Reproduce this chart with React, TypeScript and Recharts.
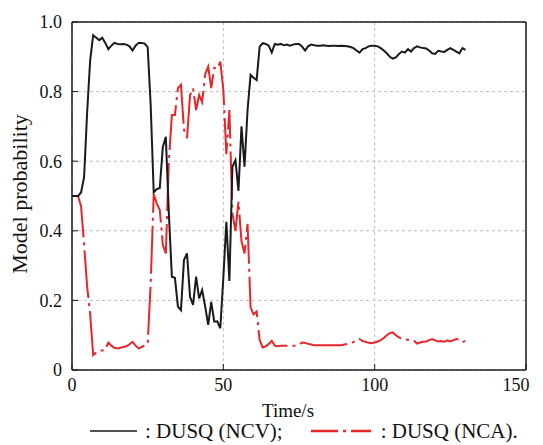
import { LineChart, Line, XAxis, YAxis, CartesianGrid, Legend, ReferenceLine } from 'recharts'

const time = [
  0, 1, 2, 3, 4, 5, 6, 7, 8, 9, 10, 11, 12, 13, 14, 15, 16, 17, 18, 19,
  20, 21, 22, 23, 24, 25, 26, 27, 28, 29, 30, 31, 32, 33, 34, 35, 36, 37, 38, 39,
  40, 41, 42, 43, 44, 45, 46, 47, 48, 49, 50, 51, 52, 53, 54, 55, 56, 57, 58, 59,
  60, 61, 62, 63, 64, 65, 66, 67, 68, 69, 70, 71, 72, 73, 74, 75, 76, 77, 78, 79,
  80, 81, 82, 83, 84, 85, 86, 87, 88, 89, 90, 91, 92, 93, 94, 95, 96, 97, 98, 99,
  100, 101, 102, 103, 104, 105, 106, 107, 108, 109, 110, 111, 112, 113, 114, 115, 116, 117, 118, 119,
  120, 121, 122, 123, 124, 125, 126, 127, 128, 129, 130,
]

// DUSQ (NCV)
const ncv = [
  0.5, 0.5, 0.5, 0.51, 0.555, 0.74, 0.89, 0.962, 0.955, 0.948, 0.955, 0.94, 0.922, 0.932, 0.94, 0.937, 0.936, 0.937, 0.935, 0.93,
  0.918, 0.932, 0.94, 0.94, 0.938, 0.928, 0.76, 0.51, 0.52, 0.523, 0.64, 0.67, 0.45, 0.268, 0.265, 0.182, 0.172, 0.316, 0.335, 0.21,
  0.187, 0.268, 0.206, 0.23, 0.182, 0.13, 0.196, 0.139, 0.14, 0.12, 0.265, 0.426, 0.256, 0.584, 0.603, 0.515, 0.7, 0.584, 0.747, 0.848,
  0.84, 0.833, 0.929, 0.939, 0.937, 0.932, 0.912, 0.937, 0.935, 0.937, 0.933, 0.935, 0.932, 0.935, 0.937, 0.937, 0.93, 0.918, 0.93, 0.935,
  0.933, 0.932, 0.932, 0.933, 0.932, 0.931, 0.932, 0.932, 0.931, 0.932, 0.931, 0.93, 0.928, 0.925, 0.918, 0.912, 0.922, 0.925, 0.93, 0.932,
  0.932, 0.93, 0.925, 0.918, 0.91, 0.9, 0.895, 0.898, 0.908, 0.915, 0.912, 0.922, 0.915, 0.925, 0.93, 0.927, 0.925, 0.924, 0.918, 0.91,
  0.908, 0.917, 0.915, 0.914, 0.92, 0.925, 0.92, 0.915, 0.91, 0.925, 0.92,
]

// DUSQ (NCA)
const nca = [
  0.5, 0.5, 0.5, 0.47, 0.36, 0.24, 0.16, 0.043, 0.05, 0.056, 0.056, 0.058, 0.079, 0.07, 0.064, 0.062, 0.064, 0.066, 0.068, 0.074,
  0.081, 0.07, 0.062, 0.066, 0.07, 0.075, 0.25, 0.505, 0.479, 0.46, 0.36, 0.335, 0.6, 0.733, 0.733, 0.81, 0.82, 0.69, 0.666, 0.79,
  0.81, 0.747, 0.79, 0.77, 0.85, 0.872, 0.81, 0.868, 0.865, 0.886, 0.805, 0.62, 0.747, 0.45, 0.4, 0.484, 0.37, 0.335, 0.42, 0.18,
  0.16, 0.168, 0.086, 0.065, 0.068, 0.075, 0.084, 0.07, 0.068, 0.07, 0.07, 0.07, 0.069, 0.07, 0.07, 0.072, 0.079, 0.078, 0.075, 0.073,
  0.071, 0.071, 0.071, 0.071, 0.071, 0.071, 0.071, 0.071, 0.071, 0.071, 0.073, 0.075, 0.078, 0.08, 0.085, 0.089, 0.083, 0.081, 0.078, 0.077,
  0.079, 0.082, 0.086, 0.092, 0.1, 0.106, 0.108, 0.1, 0.094, 0.09, 0.088, 0.087, 0.086, 0.084, 0.076, 0.079, 0.081, 0.082, 0.086, 0.089,
  0.085, 0.082, 0.083, 0.081, 0.085, 0.082, 0.086, 0.089, 0.087, 0.08, 0.084,
]

const xTicks = [0, 50, 100, 150]
const yTicks = [0, 0.2, 0.4, 0.6, 0.8, 1.0]

const FONT = '"Liberation Serif", "Times New Roman", serif'
const BLACK = '#1a1a1a'
const RED = '#e8262a'

const chartData = time.map((t, i) => ({ t, ncv: ncv[i], nca: nca[i] }))

// last x label is pulled in a little so it stays inside the frame
function XTick({ x, y, payload }: any) {
  const last = payload.value === xTicks[xTicks.length - 1]
  return (
    <text x={x + (last ? -7 : 0)} y={y} dy="0.75em" textAnchor="middle" fontFamily={FONT} fontSize={18} fill="#111">
      {payload.value}
    </text>
  )
}

function LegendContent() {
  const textStyle = { fontFamily: FONT, fontSize: 21, color: '#111' }
  return (
    <div style={{ display: 'flex', alignItems: 'center', height: 30, paddingLeft: 82, paddingTop: 2, boxSizing: 'border-box' }}>
      <svg width={47} height={10}>
        <line x1={0} y1={5} x2={47} y2={5} stroke={BLACK} strokeWidth={1.5} />
      </svg>
      <span style={{ ...textStyle, marginLeft: 8 }}>: DUSQ (NCV);</span>
      <svg width={60} height={10} style={{ marginLeft: 28 }}>
        <line x1={0} y1={5} x2={60} y2={5} stroke={RED} strokeWidth={2.5} strokeDasharray="27 5 3 5" />
      </svg>
      <span style={{ ...textStyle, marginLeft: 10 }}>: DUSQ (NCA).</span>
    </div>
  )
}

export default function App() {
  return (
    <LineChart width={527} height={437} data={chartData} margin={{ top: 14, right: 9, left: 0, bottom: 0 }}>
      <CartesianGrid strokeDasharray="3 3" stroke="#bdbdbd" />
      <XAxis
        dataKey="t"
        type="number"
        domain={[0, 150]}
        ticks={xTicks}
        height={45}
        tickSize={-6}
        tickMargin={13}
        axisLine={{ stroke: BLACK, strokeWidth: 1.5 }}
        tickLine={{ stroke: BLACK }}
        tick={<XTick />}
        label={{
          content: () => (
            <text x={280} y={402} textAnchor="middle" dominantBaseline="central" fontFamily={FONT} fontSize={19} fill="#111">
              Time/s
            </text>
          ),
        }}
      />
      <YAxis
        type="number"
        domain={[0, 1]}
        ticks={yTicks}
        width={64}
        tickSize={-6}
        tickMargin={16}
        tickFormatter={(v: number) => (v === 0 ? '0' : v.toFixed(1))}
        axisLine={{ stroke: BLACK, strokeWidth: 1.5 }}
        tickLine={{ stroke: BLACK }}
        tick={{ fill: '#111', fontSize: 18, fontFamily: FONT }}
        label={{
          content: () => (
            <text x={11} y={186} transform="rotate(-90 11 186)" textAnchor="middle" dominantBaseline="central" fontFamily={FONT} fontSize={22} fill="#111">
              Model probability
            </text>
          ),
        }}
      />
      <ReferenceLine y={1} stroke={BLACK} strokeWidth={1.5} />
      <ReferenceLine x={150} stroke={BLACK} strokeWidth={1.5} />
      <Line
        type="linear"
        dataKey="nca"
        stroke={RED}
        strokeWidth={2}
        strokeDasharray="48 5 3 5"
        dot={false}
        isAnimationActive={false}
      />
      <Line type="linear" dataKey="ncv" stroke={BLACK} strokeWidth={2} dot={false} isAnimationActive={false} />
      <Legend verticalAlign="bottom" height={30} wrapperStyle={{ left: 0, width: 527 }} content={() => <LegendContent />} />
    </LineChart>
  )
}
